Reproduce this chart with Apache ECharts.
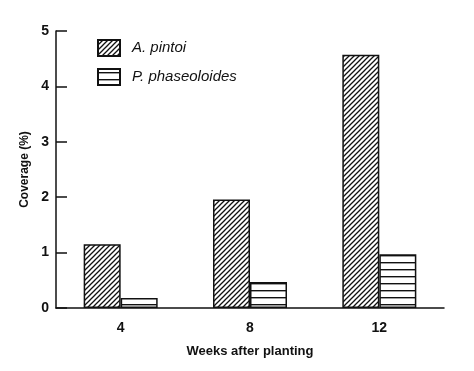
<!DOCTYPE html>
<html><head><meta charset="utf-8">
<script src="https://cdn.jsdelivr.net/npm/echarts@6/dist/echarts.min.js"></script>
<style>html,body{margin:0;padding:0;background:#fff}#c{width:474px;height:371px}</style>
</head><body><div id="c"></div>
<script>
var categories = ['4', '8', '12'];
var seriesNames = ['A. pintoi', 'P. phaseoloides'];
var aPintoi = [1.15, 1.96, 4.57];
var pPhaseoloides = [0.18, 0.47, 0.97];
var yTicks = [0, 1, 2, 3, 4, 5];

function diagPattern() {
  var s = 5, c = document.createElement('canvas');
  c.width = s; c.height = s;
  var g = c.getContext('2d');
  g.fillStyle = '#fff'; g.fillRect(0, 0, s, s);
  g.strokeStyle = '#111'; g.lineWidth = 1.3;
  g.beginPath();
  g.moveTo(-1, s + 1); g.lineTo(s + 1, -1);
  g.moveTo(-1, 1); g.lineTo(1, -1);
  g.moveTo(s - 1, s + 1); g.lineTo(s + 1, s - 1);
  g.stroke();
  return c;
}
function horizPattern() {
  var s = 7, c = document.createElement('canvas');
  c.width = s; c.height = s;
  var g = c.getContext('2d');
  g.fillStyle = '#fff'; g.fillRect(0, 0, s, s);
  g.fillStyle = '#111'; g.fillRect(0, 3, s, 1.4);
  return c;
}

var chart = echarts.init(document.getElementById('c'));
var font = 'Liberation Sans, Arial, sans-serif';
chart.setOption({
  animation: false,
  backgroundColor: '#fff',
  grid: { left: 56, right: 30, top: 31, bottom: 63 },
  legend: {
    orient: 'vertical', left: 92, top: 34, itemWidth: 22, itemHeight: 16, itemGap: 11,
    icon: 'rect',
    textStyle: { fontFamily: font, fontStyle: 'italic', fontSize: 15, color: '#111', padding: [0, 0, 0, 7] },
    data: seriesNames
  },
  xAxis: {
    type: 'category', data: categories,
    name: 'Weeks after planting', nameLocation: 'middle', nameGap: 37,
    nameTextStyle: { fontFamily: font, fontWeight: 'bold', fontSize: 13, color: '#111' },
    axisLine: { lineStyle: { color: '#111', width: 1.5 } },
    axisTick: { inside: true, length: 8, lineStyle: { color: '#111', width: 1.5 } },
    axisLabel: { fontFamily: font, fontSize: 14, fontWeight: 'bold', color: '#111', margin: 13 }
  },
  yAxis: {
    type: 'value', min: yTicks[0], max: yTicks[yTicks.length - 1], interval: 1,
    name: 'Coverage (%)', nameLocation: 'middle', nameGap: 25,
    nameTextStyle: { fontFamily: font, fontWeight: 'bold', fontSize: 12, color: '#111' },
    axisLine: { show: true, lineStyle: { color: '#111', width: 1.5 } },
    axisTick: { show: true, inside: true, length: 11, lineStyle: { color: '#111', width: 1.5 } },
    axisLabel: { fontFamily: font, fontSize: 14, fontWeight: 'bold', color: '#111', margin: 7 },
    splitLine: { show: false }
  },
  series: [
    { name: seriesNames[0], type: 'bar', data: aPintoi, barWidth: 37, barGap: '0%',
      itemStyle: { color: { image: diagPattern(), repeat: 'repeat' }, borderColor: '#111', borderWidth: 1.5 } },
    { name: seriesNames[1], type: 'bar', data: pPhaseoloides, barWidth: 37, barGap: '0%',
      itemStyle: { color: { image: horizPattern(), repeat: 'repeat' }, borderColor: '#111', borderWidth: 1.5 } }
  ]
});
</script></body></html>
